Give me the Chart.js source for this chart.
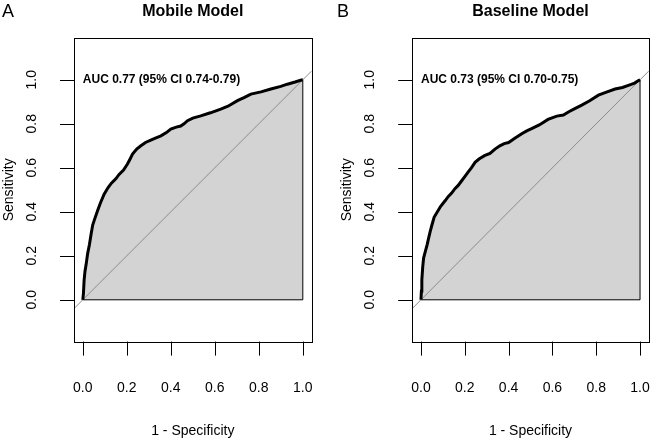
<!DOCTYPE html>
<html>
<head>
<meta charset="utf-8">
<script src="https://cdn.jsdelivr.net/npm/chart.js@4.4.1/dist/chart.umd.min.js"></script>
<style>
  html, body { margin: 0; padding: 0; background: #fff; }
  .wrap { position: relative; width: 650px; height: 438px; }
  .panel { position: absolute; top: 0; width: 325px; height: 438px; }
</style>
</head>
<body>
<div class="wrap">
  <div class="panel" style="left:0"><canvas id="rocA" width="325" height="438"></canvas></div>
  <div class="panel" style="left:325px"><canvas id="rocB" width="325" height="438"></canvas></div>
</div>
<script>
// ── Data (1 - specificity vs sensitivity) ───────
const mobileFpr = [0, 0.003, 0.006, 0.01, 0.015, 0.022, 0.03, 0.038, 0.045, 0.055, 0.067, 0.08, 0.097, 0.115, 0.13, 0.15, 0.165, 0.185, 0.203, 0.215, 0.226, 0.245, 0.264, 0.285, 0.309, 0.33, 0.355, 0.38, 0.40, 0.425, 0.445, 0.46, 0.476, 0.50, 0.536, 0.58, 0.627, 0.66, 0.703, 0.735, 0.764, 0.81, 0.855, 0.90, 0.93, 0.965, 0.994, 1];
const mobileTpr = [0, 0.03, 0.09, 0.13, 0.16, 0.21, 0.25, 0.30, 0.34, 0.37, 0.405, 0.44, 0.48, 0.51, 0.53, 0.55, 0.57, 0.59, 0.617, 0.64, 0.662, 0.685, 0.70, 0.715, 0.726, 0.735, 0.745, 0.76, 0.776, 0.785, 0.79, 0.80, 0.814, 0.826, 0.836, 0.85, 0.867, 0.88, 0.905, 0.92, 0.935, 0.945, 0.958, 0.97, 0.98, 0.99, 0.999, 1];

const baselineFpr = [0, 0.002, 0.004, 0.008, 0.012, 0.02, 0.028, 0.035, 0.042, 0.05, 0.06, 0.075, 0.09, 0.11, 0.125, 0.14, 0.155, 0.17, 0.185, 0.2, 0.215, 0.23, 0.247, 0.265, 0.29, 0.315, 0.338, 0.36, 0.38, 0.40, 0.43, 0.46, 0.483, 0.505, 0.54, 0.58, 0.62, 0.65, 0.675, 0.70, 0.734, 0.77, 0.81, 0.85, 0.886, 0.92, 0.947, 0.975, 0.995, 1];
const baselineTpr = [0, 0.04, 0.09, 0.15, 0.19, 0.22, 0.25, 0.28, 0.31, 0.34, 0.375, 0.40, 0.425, 0.45, 0.47, 0.485, 0.505, 0.52, 0.54, 0.56, 0.58, 0.60, 0.625, 0.64, 0.655, 0.665, 0.685, 0.70, 0.71, 0.715, 0.735, 0.755, 0.768, 0.778, 0.795, 0.82, 0.835, 0.84, 0.855, 0.868, 0.885, 0.905, 0.93, 0.945, 0.958, 0.965, 0.975, 0.985, 0.998, 1];

const tickValues = [0, 0.2, 0.4, 0.6, 0.8, 1.0];
const tickLabels = ['0.0', '0.2', '0.4', '0.6', '0.8', '1.0'];
const xLimits = [-0.04, 1.04];
const yLimits = [-0.19, 1.19];

const FONT = '"Liberation Sans", Arial, Helvetica, sans-serif';

// ── R-style frame, axes and labels ──────────────
const rFrame = {
  id: 'rFrame',
  afterDraw(chart, args, opts) {
    const c = chart.ctx;
    const a = chart.chartArea;
    const xs = chart.scales.x, ys = chart.scales.y;
    c.save();
    c.strokeStyle = '#000';
    c.fillStyle = '#000';
    c.lineWidth = 1;

    // box
    c.strokeRect(Math.round(a.left) + 0.5, Math.round(a.top) + 0.5,
      Math.round(a.right - a.left), Math.round(a.bottom - a.top));

    // x axis ticks + labels
    c.beginPath();
    tickValues.forEach(v => {
      const px = Math.round(xs.getPixelForValue(v)) + 0.5;
      c.moveTo(px, a.bottom);
      c.lineTo(px, a.bottom + 14);
    });
    c.stroke();
    c.font = '14px ' + FONT;
    c.textAlign = 'center';
    c.textBaseline = 'middle';
    tickValues.forEach((v, i) => c.fillText(tickLabels[i], xs.getPixelForValue(v), 388));
    c.fillText('1 - Specificity', (a.left + a.right) / 2, 431);

    // y axis ticks + labels
    c.beginPath();
    tickValues.forEach(v => {
      const py = Math.round(ys.getPixelForValue(v)) + 0.5;
      c.moveTo(a.left - 14, py);
      c.lineTo(a.left, py);
    });
    c.stroke();
    tickValues.forEach((v, i) => {
      c.save();
      c.translate(a.left - 42, ys.getPixelForValue(v));
      c.rotate(-Math.PI / 2);
      c.fillText(tickLabels[i], 0, 0);
      c.restore();
    });
    c.save();
    c.translate(a.left - 65, (a.top + a.bottom) / 2);
    c.rotate(-Math.PI / 2);
    c.fillText('Sensitivity', 0, 0);
    c.restore();

    // title and panel letter
    c.font = 'bold 16px ' + FONT;
    c.fillText(opts.title, (a.left + a.right) / 2, 12);
    c.font = '18px ' + FONT;
    c.textAlign = 'left';
    c.fillText(opts.letter, opts.letterX, 12);

    // AUC text
    c.font = 'bold 12px ' + FONT;
    c.fillText(opts.auc, xs.getPixelForValue(0), ys.getPixelForValue(1));
    c.restore();
  }
};

function makeRoc(id, fpr, tpr, title, letter, letterX, auc, padLeft, padRight) {
  const curve = fpr.map((x, i) => ({ x: x, y: tpr[i] }));
  const last = fpr.length - 1;
  const outline = [
    { x: fpr[0], y: tpr[0] },
    { x: fpr[last], y: tpr[0] },
    { x: fpr[last], y: tpr[last] }
  ];
  const diagonal = xLimits.map(v => ({ x: v, y: v }));

  return new Chart(document.getElementById(id), {
    type: 'scatter',
    data: {
      datasets: [
        { data: curve, showLine: true, borderColor: '#000', borderWidth: 3, pointRadius: 0, fill: false, order: 0 },
        { data: diagonal, showLine: true, borderColor: '#8c8c8c', borderWidth: 1, pointRadius: 0, fill: false, order: 1 },
        { data: outline, showLine: true, borderColor: '#000', borderWidth: 1, pointRadius: 0, fill: false, order: 2 },
        { data: curve, showLine: true, borderWidth: 0, pointRadius: 0, fill: 'origin', backgroundColor: '#d3d3d3', order: 3 }
      ]
    },
    options: {
      responsive: false,
      animation: false,
      layout: { padding: { left: padLeft, right: padRight, top: 38, bottom: 96.4 } },
      plugins: {
        legend: { display: false },
        tooltip: { enabled: false },
        rFrame: { title: title, letter: letter, letterX: letterX, auc: auc }
      },
      scales: {
        x: { type: 'linear', min: xLimits[0], max: xLimits[1], display: false },
        y: { type: 'linear', min: yLimits[0], max: yLimits[1], display: false }
      }
    },
    plugins: [rFrame]
  });
}

makeRoc('rocA', mobileFpr, mobileTpr, 'Mobile Model', 'A', 2, 'AUC 0.77 (95% CI 0.74-0.79)', 74, 13.4);
makeRoc('rocB', baselineFpr, baselineTpr, 'Baseline Model', 'B', 12, 'AUC 0.73 (95% CI 0.70-0.75)', 87.2, 1.2);
</script>
</body>
</html>
